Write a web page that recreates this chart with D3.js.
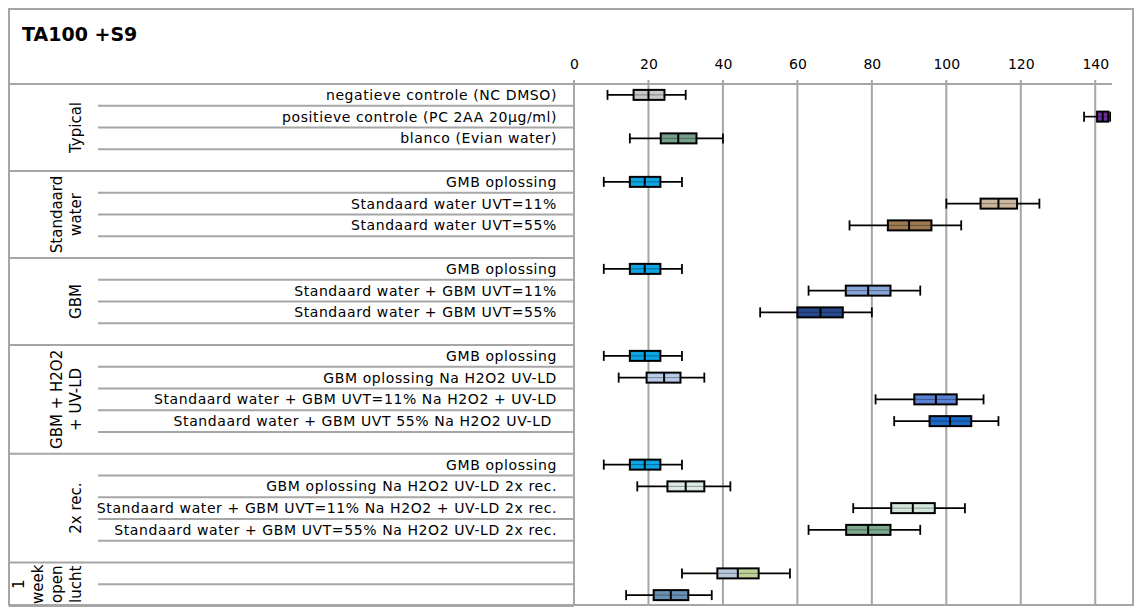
<!DOCTYPE html>
<html>
<head>
<meta charset="utf-8">
<script src="https://cdn.jsdelivr.net/npm/d3@7"></script>
<style>
  body { margin: 0; background: #fff; }
  svg text { font-family: "DejaVu Sans", sans-serif; fill: #000; }
</style>
</head>
<body>
<div id="chart"></div>
<script>
// Data
const title = "TA100 +S9";
const groups = ["Typical", "Standaard water", "GBM", "GBM + H2O2 + UV-LD", "2x rec.", "1 week open lucht"];
const groupLines = [["Typical"], ["Standaard", "water"], ["GBM"], ["GBM + H2O2", "+ UV-LD"], ["2x rec."], ["1", "week", "open", "lucht"]];
const rowGroup = [0, 0, 0, 0, 1, 1, 1, 1, 2, 2, 2, 2, 3, 3, 3, 3, 3, 4, 4, 4, 4, 4, 5, 5];
const categories = [
    "negatieve controle (NC DMSO)", "positieve controle (PC 2AA 20µg/ml)", "blanco (Evian water)", "",
    "GMB oplossing", "Standaard water UVT=11%", "Standaard water UVT=55%", "",
    "GMB oplossing", "Standaard water + GBM UVT=11%", "Standaard water + GBM UVT=55%", "",
    "GMB oplossing", "GBM oplossing Na H2O2 UV-LD", "Standaard water + GBM UVT=11% Na H2O2 + UV-LD", "Standaard water + GBM UVT 55% Na H2O2 UV-LD ", "",
    "GMB oplossing", "GBM oplossing Na H2O2 UV-LD 2x rec.", "Standaard water + GBM UVT=11% Na H2O2 + UV-LD 2x rec.", "Standaard water + GBM UVT=55% Na H2O2 UV-LD 2x rec.", "",
    "", ""
];
const minValues =    [9, 137, 15, null,   8, 100, 74, null,   8, 63, 50, null,   8, 12, 81, 86, null,   8, 17, 75, 63, null,   29, 14];
const q1Values =     [16, 140.5, 23.3, null,   15, 109.2, 84.3, null,   15, 73, 60, null,   15, 19.5, 91.4, 95.5, null,   15, 25.1, 85.2, 73.1, null,   38.5, 21.4];
const medianValues = [20, 142, 28, null,   19, 114, 90, null,   19, 79, 66.2, null,   19, 24.2, 97.2, 101, null,   19, 30, 91, 79, null,   44, 26];
const q3Values =     [24.3, 143.5, 32.9, null,   23.2, 119, 96, null,   23.2, 85, 72.2, null,   23.2, 28.6, 102.8, 106.7, null,   23.2, 35, 96.9, 85, null,   49.6, 30.7];
const maxValues =    [30, 144, 40, null,   29, 125, 104, null,   29, 93, 80, null,   29, 35, 110, 114, null,   29, 42, 105, 93, null,   58, 37];
const xTicks = [0, 20, 40, 60, 80, 100, 120, 140];

// Box colours per row (left half, right half)
const leftFill = ["#c8c8c8", "#7030a0", "#74a08a", null, "#0ea5e4", "#cdb79e", "#9e7a52", null,
    "#0ea5e4", "#86a6da", "#27498c", null, "#0ea5e4", "#b9cbe8", "#5b82d2", "#1b6ac6", null,
    "#0ea5e4", "#dbe9e2", "#d4e6dc", "#7ca88d", null, "#b8cadb", "#6991b3"];
const rightFill = leftFill.map((c, i) => i === 22 ? "#c3d397" : c);

const W = 1141, H = 610;
const plotTop = 84, plotBottom = 606;
const axisX0 = 574, axisX1 = 1112;
const gray = "#a6a6a6";

const svg = d3.select("#chart").append("svg").attr("width", W).attr("height", H);

// Scales
const x = d3.scaleLinear().domain([0, 144.5]).range([axisX0, axisX1]);
const y = d3.scaleBand().domain(d3.range(categories.length)).range([plotTop, plotBottom]).padding(0);
const bw = y.bandwidth();

// Frame
svg.append("rect").attr("x", 9).attr("y", 9).attr("width", 1124).attr("height", 596)
    .attr("fill", "none").attr("stroke", gray).attr("stroke-width", 2);

svg.append("text").attr("x", 22).attr("y", 41).attr("font-size", 19).attr("font-weight", "bold").text(title);

// Grid lines
svg.append("g").selectAll("line").data(xTicks).join("line")
    .attr("x1", d => x(d)).attr("x2", d => x(d))
    .attr("y1", plotTop - 4).attr("y2", 605)
    .attr("stroke", gray).attr("stroke-width", 2);

// Top axis
const xAxis = d3.axisTop(x).tickValues(xTicks).tickSize(0).tickPadding(15);
const ax = svg.append("g").attr("transform", `translate(0,${plotTop})`).call(xAxis);
ax.select(".domain").remove();
ax.selectAll("text").attr("font-size", 14).attr("font-family", "DejaVu Sans, sans-serif");
svg.append("line").attr("x1", 9).attr("x2", axisX1).attr("y1", plotTop).attr("y2", plotTop)
    .attr("stroke", gray).attr("stroke-width", 2);

// Row separators inside the label column
const rows = d3.range(categories.length);
const innerLines = rows.filter(i => i + 1 < categories.length && rowGroup[i] === rowGroup[i + 1]);
svg.append("g").selectAll("line").data(innerLines).join("line")
    .attr("x1", 98).attr("x2", axisX0)
    .attr("y1", i => y(i) + bw).attr("y2", i => y(i) + bw)
    .attr("stroke", gray).attr("stroke-width", 2);

// Group separators
const groupEnds = rows.filter(i => i + 1 === categories.length || rowGroup[i] !== rowGroup[i + 1]);
svg.append("g").selectAll("line").data(groupEnds).join("line")
    .attr("x1", 9).attr("x2", axisX0)
    .attr("y1", i => y(i) + bw).attr("y2", i => y(i) + bw)
    .attr("stroke", gray).attr("stroke-width", 2);

// Row labels
svg.append("g").selectAll("text").data(rows).join("text")
    .attr("x", 557).attr("y", i => y(i) + bw / 2)
    .attr("dy", "0.36em").attr("text-anchor", "end")
    .attr("font-size", 14).attr("letter-spacing", 0.6)
    .style("white-space", "pre")
    .text(i => categories[i]);

// Group labels (rotated)
groups.forEach((g, gi) => {
    const idx = rows.filter(i => rowGroup[i] === gi);
    const cy = (y(idx[0]) + y(idx[idx.length - 1]) + bw) / 2;
    const lines = groupLines[gi];
    const t = svg.append("text")
        .attr("transform", `translate(${81},${cy}) rotate(-90)`)
        .attr("text-anchor", "middle").attr("font-size", 15);
    lines.forEach((ln, li) => {
        t.append("tspan").attr("x", 0).attr("y", -(lines.length - 1 - li) * 19).text(ln);
    });
});

// Box plots
const valid = rows.filter(i => medianValues[i] != null);
const boxH = 10, capH = 10;
const boxes = svg.append("g").selectAll("g").data(valid).join("g")
    .attr("transform", i => `translate(0,${y(i) + bw / 2})`);

boxes.append("line")
    .attr("x1", i => x(minValues[i])).attr("x2", i => x(maxValues[i]))
    .attr("stroke", "#000").attr("stroke-width", 1.6);
boxes.append("line")
    .attr("x1", i => x(minValues[i])).attr("x2", i => x(minValues[i]))
    .attr("y1", -capH / 2).attr("y2", capH / 2)
    .attr("stroke", "#000").attr("stroke-width", 1.8);
boxes.append("line")
    .attr("x1", i => x(maxValues[i])).attr("x2", i => x(maxValues[i]))
    .attr("y1", -capH / 2).attr("y2", capH / 2)
    .attr("stroke", "#000").attr("stroke-width", 1.8);

// left half and right half, each split by a thin midline
boxes.append("rect")
    .attr("x", i => x(q1Values[i])).attr("y", -boxH / 2)
    .attr("width", i => x(medianValues[i]) - x(q1Values[i])).attr("height", boxH)
    .attr("fill", i => leftFill[i]);
boxes.append("rect")
    .attr("x", i => x(medianValues[i])).attr("y", -boxH / 2)
    .attr("width", i => x(q3Values[i]) - x(medianValues[i])).attr("height", boxH)
    .attr("fill", i => rightFill[i]);
boxes.append("line")
    .attr("x1", i => x(q1Values[i])).attr("x2", i => x(medianValues[i]))
    .attr("stroke", i => d3.color(leftFill[i]).darker(1.2)).attr("stroke-width", 1);
boxes.append("line")
    .attr("x1", i => x(medianValues[i])).attr("x2", i => x(q3Values[i]))
    .attr("stroke", i => d3.color(rightFill[i]).darker(1.2)).attr("stroke-width", 1);
boxes.append("rect")
    .attr("x", i => x(q1Values[i])).attr("y", -boxH / 2)
    .attr("width", i => x(q3Values[i]) - x(q1Values[i])).attr("height", boxH)
    .attr("fill", "none").attr("stroke", "#000").attr("stroke-width", 2);
boxes.append("line")
    .attr("x1", i => x(medianValues[i])).attr("x2", i => x(medianValues[i]))
    .attr("y1", -boxH / 2).attr("y2", boxH / 2)
    .attr("stroke", "#000").attr("stroke-width", 2);
</script>
</body>
</html>
